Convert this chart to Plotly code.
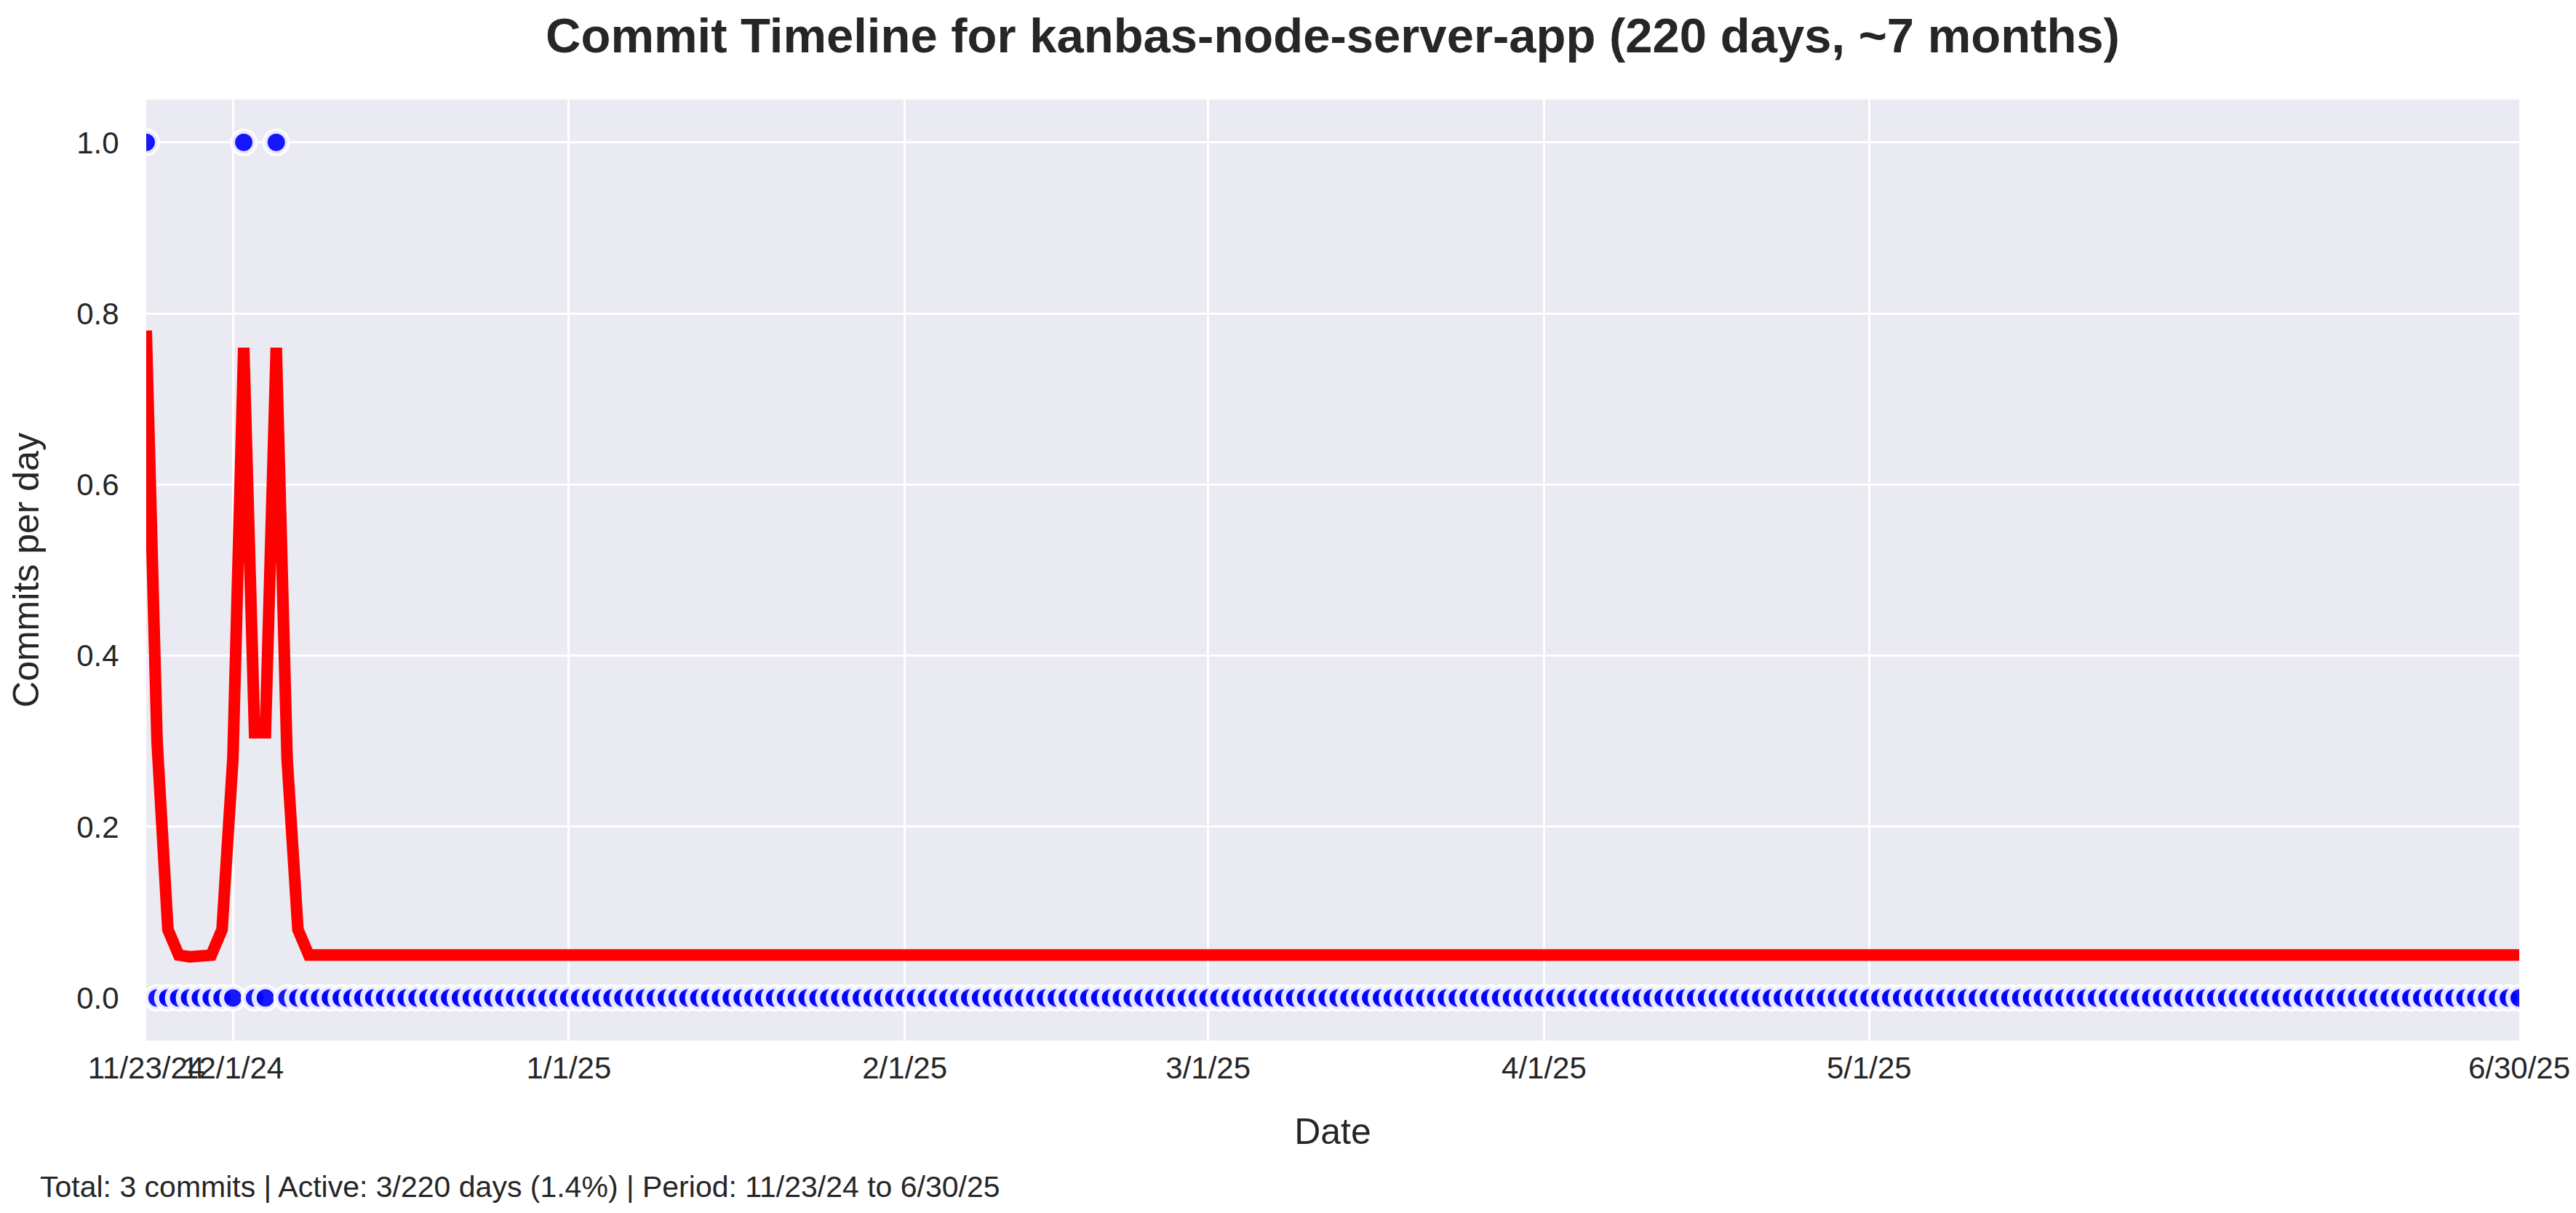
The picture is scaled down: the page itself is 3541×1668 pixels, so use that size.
import pandas as pd
import plotly.graph_objects as go

# ---- data ----
start_date = "2024-11-23"
end_date = "2025-06-30"
commit_dates = ["2024-11-23", "2024-12-02", "2024-12-05"]
commit_counts = [1, 1, 1]

trend_head = [0.78, 0.30, 0.08, 0.05, 0.048, 0.048, 0.05, 0.08,
              0.28, 0.76, 0.31, 0.31, 0.76, 0.28, 0.08, 0.05]
trend_tail_value = 0.05

tick_dates = ["2024-11-23", "2024-12-01", "2025-01-01", "2025-02-01",
              "2025-03-01", "2025-04-01", "2025-05-01", "2025-06-30"]
tick_labels = ["11/23/24", "12/1/24", "1/1/25", "2/1/25",
               "3/1/25", "4/1/25", "5/1/25", "6/30/25"]
ytick_vals = [0.0, 0.2, 0.4, 0.6, 0.8, 1.0]
ytick_labels = ["0.0", "0.2", "0.4", "0.6", "0.8", "1.0"]

title_text = "Commit Timeline for kanbas-node-server-app (220 days, ~7 months)"
footer_text = "Total: 3 commits | Active: 3/220 days (1.4%) | Period: 11/23/24 to 6/30/25"

# ---- build series ----
days = pd.date_range(start_date, end_date, freq="D")
commits = pd.Series(0, index=days)
for d, c in zip(commit_dates, commit_counts):
    commits[pd.Timestamp(d)] = c
trend = trend_head + [trend_tail_value] * (len(days) - len(trend_head))

FONT = "Liberation Sans, Arial, Helvetica, sans-serif"
TXT = "#262626"

marker_style = dict(size=31, color="rgba(0,0,255,0.9)",
                    line=dict(width=7, color="rgba(255,255,255,0.9)"))

fig = go.Figure()
fig.add_trace(go.Scatter(
    x=days, y=commits.values, mode="markers", marker=marker_style,
    showlegend=False, hoverinfo="x+y"))
fig.add_trace(go.Scatter(
    x=days, y=trend, mode="lines",
    line=dict(color="red", width=16), showlegend=False))

fig.update_layout(
    width=3541, height=1668,
    margin=dict(l=193, r=86, t=129, b=245, autoexpand=False),
    paper_bgcolor="white", plot_bgcolor="#eaeaf2",
    font=dict(family=FONT, color=TXT, size=42),
    title=dict(text=title_text, x=0.5, xanchor="center", xref="paper",
               y=1 - 41 / 1668, yanchor="middle", yref="container",
               font=dict(family=FONT, size=67, color=TXT, weight="bold")),
    xaxis=dict(
        range=[pd.Timestamp(start_date), pd.Timestamp(end_date) + pd.Timedelta(seconds=1)],
        tickmode="array", tickvals=tick_dates, ticktext=tick_labels,
        tickangle=0,
        showgrid=True, gridcolor="white", gridwidth=3,
        zeroline=False, showline=False,
        ticks="outside", ticklen=1, tickcolor="rgba(0,0,0,0)",
        tickfont=dict(size=42, color=TXT),
        title=dict(text="Date", font=dict(size=50, color=TXT), standoff=46),
    ),
    yaxis=dict(
        range=[-0.05, 1.05], tickmode="array",
        tickvals=ytick_vals, ticktext=ytick_labels,
        showgrid=True, gridcolor="white", gridwidth=3,
        zeroline=False, showline=False,
        ticks="outside", ticklen=28, tickcolor="rgba(0,0,0,0)",
        tickfont=dict(size=42, color=TXT),
        title=dict(text="Commits per day", font=dict(size=50, color=TXT), standoff=40),
    ),
    annotations=[dict(
        text=footer_text, xref="paper", yref="paper",
        x=(45 - 193) / 3262, y=(1423 - 1624) / 1294,
        xanchor="left", yanchor="middle", showarrow=False,
        font=dict(size=41, color=TXT, family=FONT))],
)

fig.write_html("out.html")
